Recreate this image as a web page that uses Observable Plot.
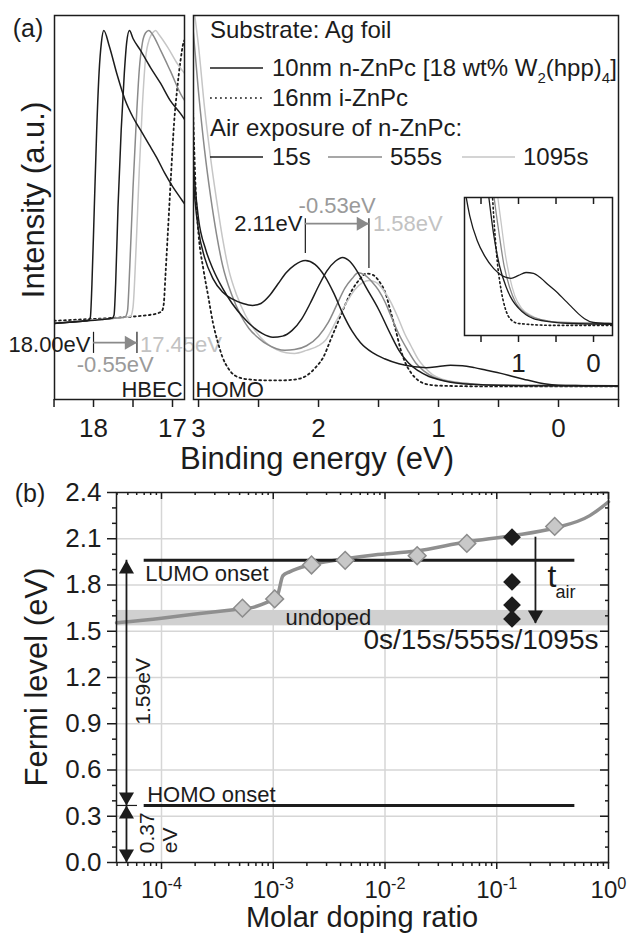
<!DOCTYPE html>
<html><head><meta charset="utf-8">
<script src="https://cdn.jsdelivr.net/npm/d3@7"></script>
<script src="https://cdn.jsdelivr.net/npm/@observablehq/plot@0.6"></script>
<style>
html,body{margin:0;padding:0;background:#fff;}
#root{position:relative;width:630px;height:936px;overflow:hidden;font-family:'Liberation Sans',Arial,Helvetica,sans-serif;color:#222;}
.lbl{position:absolute;white-space:nowrap;line-height:1;}
.sb{font-size:15px;position:relative;top:7px;}
</style></head><body><div id="root"></div>
<script>
// ================= DATA =================
// Panel (a), left: HBEC region, [binding energy (eV), intensity (a.u.)]
const hbec0s = [[18.5,0.198],[18.3,0.201],[18.1,0.205],[18.06,0.207],[18.04,0.214],[18.02,0.3],[17.99,0.5],[17.96,0.7],[17.93,0.85],[17.9,0.93],[17.87,0.961],[17.8,0.92],[17.7,0.845],[17.6,0.78],[17.5,0.735],[17.4,0.7],[17.3,0.665],[17.2,0.63],[17.1,0.59],[17.0,0.555],[16.9,0.525],[16.85,0.51]];
const hbec15s = [[18.5,0.198],[18.2,0.203],[17.9,0.208],[17.76,0.212],[17.74,0.22],[17.72,0.3],[17.69,0.5],[17.65,0.7],[17.61,0.85],[17.58,0.93],[17.545,0.961],[17.5,0.94],[17.405,0.909],[17.28,0.865],[17.15,0.823],[17.03,0.779],[16.9,0.745],[16.85,0.73]];
const hbec555s = [[18.5,0.198],[18.0,0.207],[17.7,0.212],[17.6,0.215],[17.57,0.23],[17.54,0.35],[17.5,0.55],[17.46,0.72],[17.42,0.86],[17.38,0.93],[17.34,0.955],[17.3,0.961],[17.25,0.95],[17.15,0.909],[17.03,0.857],[16.87,0.786],[16.85,0.78]];
const hbec1095s = [[18.5,0.199],[18.0,0.207],[17.7,0.212],[17.53,0.217],[17.5,0.24],[17.46,0.4],[17.42,0.6],[17.38,0.77],[17.34,0.89],[17.29,0.94],[17.25,0.955],[17.215,0.961],[17.17,0.95],[17.06,0.917],[16.94,0.875],[16.85,0.85]];
const hbecIZnPc = [[18.5,0.205],[18.2,0.208],[17.8,0.212],[17.5,0.216],[17.3,0.22],[17.18,0.225],[17.13,0.232],[17.11,0.25],[17.09,0.32],[17.06,0.43],[17.02,0.58],[16.98,0.72],[16.94,0.81],[16.9,0.88],[16.86,0.93],[16.85,0.935]];
const hbecCutoffs = [18.00, 17.45];   // secondary electron cut-offs (eV)
const hbecShift = -0.55;

// Panel (a), right: HOMO region
const homo0s = [[3.06,0.66],[3.03,0.52],[3.0,0.44],[2.95,0.37],[2.88,0.315],[2.8,0.28],[2.72,0.262],[2.63,0.25],[2.55,0.245],[2.48,0.25],[2.41,0.27],[2.34,0.3],[2.27,0.33],[2.2,0.35],[2.11,0.362],[2.03,0.352],[1.95,0.322],[1.87,0.275],[1.8,0.225],[1.72,0.178],[1.65,0.148],[1.55,0.122],[1.45,0.106],[1.33,0.093],[1.2,0.085],[1.1,0.083],[1.0,0.086],[0.9,0.089],[0.8,0.088],[0.7,0.083],[0.6,0.076],[0.48,0.068],[0.38,0.06],[0.29,0.053],[0.2,0.046],[0.12,0.041],[0.0,0.037],[-0.2,0.036],[-0.5,0.035]];
const homo15s = [[3.06,0.7],[3.03,0.56],[3.0,0.47],[2.94,0.39],[2.88,0.34],[2.8,0.29],[2.72,0.25],[2.63,0.215],[2.55,0.19],[2.47,0.172],[2.38,0.162],[2.3,0.165],[2.22,0.18],[2.14,0.21],[2.07,0.25],[2.0,0.295],[1.93,0.335],[1.86,0.36],[1.8,0.37],[1.74,0.36],[1.67,0.33],[1.6,0.29],[1.5,0.235],[1.4,0.17],[1.33,0.128],[1.25,0.095],[1.17,0.075],[1.08,0.06],[1.0,0.052],[0.9,0.045],[0.8,0.041],[0.6,0.038],[0.3,0.036],[-0.5,0.035]];
const homo555s = [[3.05,0.98],[3.0,0.8],[2.95,0.65],[2.9,0.53],[2.85,0.43],[2.8,0.35],[2.72,0.27],[2.65,0.22],[2.58,0.185],[2.5,0.16],[2.42,0.142],[2.35,0.132],[2.28,0.128],[2.2,0.13],[2.1,0.14],[2.0,0.165],[1.92,0.2],[1.85,0.245],[1.78,0.29],[1.72,0.315],[1.67,0.33],[1.62,0.325],[1.55,0.305],[1.5,0.285],[1.44,0.25],[1.4,0.22],[1.33,0.17],[1.26,0.13],[1.19,0.095],[1.12,0.074],[1.04,0.058],[0.96,0.05],[0.85,0.044],[0.7,0.04],[0.4,0.037],[-0.5,0.036]];
const homo1095s = [[3.04,1.02],[3.0,0.92],[2.95,0.76],[2.9,0.63],[2.85,0.52],[2.8,0.42],[2.75,0.34],[2.68,0.27],[2.61,0.22],[2.53,0.18],[2.44,0.148],[2.35,0.13],[2.27,0.122],[2.2,0.12],[2.1,0.128],[2.0,0.14],[1.94,0.155],[1.86,0.2],[1.78,0.245],[1.7,0.285],[1.63,0.305],[1.58,0.31],[1.52,0.305],[1.46,0.285],[1.4,0.255],[1.34,0.215],[1.28,0.17],[1.23,0.14],[1.17,0.105],[1.12,0.085],[1.05,0.065],[0.96,0.052],[0.85,0.045],[0.7,0.04],[0.4,0.037],[-0.5,0.036]];
const homoIZnPc = [[3.05,0.8],[3.02,0.52],[3.0,0.43],[2.96,0.34],[2.92,0.27],[2.88,0.2],[2.84,0.15],[2.8,0.11],[2.75,0.08],[2.7,0.063],[2.6,0.053],[2.45,0.05],[2.3,0.05],[2.2,0.052],[2.1,0.062],[2.02,0.085],[1.96,0.11],[1.9,0.155],[1.84,0.2],[1.78,0.245],[1.72,0.285],[1.66,0.312],[1.6,0.328],[1.55,0.325],[1.5,0.31],[1.44,0.275],[1.4,0.23],[1.36,0.185],[1.32,0.135],[1.28,0.098],[1.23,0.07],[1.17,0.05],[1.1,0.04],[1.0,0.036],[0.5,0.034],[-0.5,0.034]];
const homoPeaks = [2.11, 1.58];
const homoShift = -0.53;

// Panel (b): Fermi level vs molar doping ratio
const dopedRatio = [5.3e-4, 1.03e-3, 2.2e-3, 4.4e-3, 0.0194, 0.054, 0.33];
const dopedEF    = [1.65, 1.71, 1.93, 1.96, 1.99, 2.07, 2.18];
const modelRatio = [3.96e-5, 1e-4, 2.2e-4, 4.4e-4, 6.6e-4, 9e-4, 1.03e-3, 1.1e-3, 1.22e-3, 1.4e-3, 2.0e-3, 2.7e-3, 4.4e-3, 8e-3, 0.019, 0.054, 0.137, 0.33, 0.68, 0.89, 1.0];
const modelEF    = [1.555, 1.585, 1.615, 1.64, 1.655, 1.69, 1.71, 1.74, 1.86, 1.885, 1.925, 1.945, 1.97, 1.995, 2.02, 2.08, 2.12, 2.17, 2.25, 2.31, 2.34];
const airRatio = 0.137;
const airEF = [2.11, 1.82, 1.67, 1.58];
const airTimes = ["0s", "15s", "555s", "1095s"];
const lumoOnset = 1.96, homoOnset = 0.37;
const onsetRange = [7e-5, 0.5];
const undopedBand = [1.535, 1.635];
const yTicksB = [0, 0.3, 0.6, 0.9, 1.2, 1.5, 1.8, 2.1, 2.4];
const decades = [1e-4, 1e-3, 1e-2, 1e-1, 1];

// ================= RENDER =================
const FONT = "'Liberation Sans', Arial, Helvetica, sans-serif";
const INK = "#1c1c1c", DGRAY = "#8a8a8a", LGRAY = "#c6c6c6", TDGRAY = "#9a9a9a", TLGRAY = "#c2c2c2";
const root = document.getElementById("root");
const baseStyle = {fontFamily: FONT, background: "transparent", overflow: "visible", color: INK};

function mount(svg, left, top) {
  const d = document.createElement("div");
  d.style.cssText = `position:absolute;left:${left}px;top:${top}px;`;
  d.appendChild(svg); root.appendChild(d);
}
function label(html, x, y, size, {anchor = "middle", rotate = 0, color = INK, lh = 1} = {}) {
  const d = document.createElement("div");
  d.className = "lbl";
  const tx = anchor === "start" ? "0" : anchor === "end" ? "-100%" : "-50%";
  d.style.left = x + "px"; d.style.top = y + "px"; d.style.fontSize = size + "px"; d.style.color = color;
  d.style.lineHeight = lh;
  d.style.transform = `translate(${tx},-50%)` + (rotate ? ` rotate(${rotate}deg)` : "");
  d.innerHTML = html;
  root.appendChild(d);
}
function legendLine(x1, x2, y, color, dash) {
  const ns = "http://www.w3.org/2000/svg";
  const s = document.createElementNS(ns, "svg");
  s.setAttribute("width", x2 - x1); s.setAttribute("height", 6);
  s.style.cssText = `position:absolute;left:${x1}px;top:${y - 3}px;`;
  const l = document.createElementNS(ns, "line");
  l.setAttribute("x1", 0); l.setAttribute("x2", x2 - x1); l.setAttribute("y1", 3); l.setAttribute("y2", 3);
  l.setAttribute("stroke", color); l.setAttribute("stroke-width", 1.6);
  if (dash) l.setAttribute("stroke-dasharray", dash);
  s.appendChild(l); root.appendChild(s);
}
const lineOpts = (color, extra = {}) => ({x: d => d[0], y: d => d[1], stroke: color, strokeWidth: 1.5, curve: "monotone-x", clip: true, ...extra});
const eV = d => d.toFixed(2) + "eV";

// ---- (a) left: HBEC ----
const hbecPlot = Plot.plot({
  width: 200, height: 445, marginLeft: 54, marginRight: 16, marginTop: 15, marginBottom: 46,
  x: {domain: [18.494, 16.848]}, y: {domain: [0, 1], axis: null},
  style: baseStyle,
  marks: [
    Plot.line(hbecIZnPc, lineOpts(INK, {strokeDasharray: "1.8,3.2", strokeWidth: 1.8})),
    Plot.line(hbec1095s, lineOpts(LGRAY)),
    Plot.line(hbec555s, lineOpts(DGRAY)),
    Plot.line(hbec15s, lineOpts(INK)),
    Plot.line(hbec0s, lineOpts(INK)),
    Plot.ruleX(hbecCutoffs, {x: d => d, y1: () => 0.12, y2: () => 0.175, stroke: INK, strokeWidth: 1.2}),
    Plot.ruleY([0.148], {y: d => d, x1: () => hbecCutoffs[0], x2: () => hbecCutoffs[1], stroke: DGRAY, strokeWidth: 1.8}),
    Plot.dot([hbecCutoffs[1]], {x: d => d, y: () => 0.148, symbol: "triangle", r: 5.2, rotate: 90, fill: DGRAY, dx: -8.1}),
    Plot.text([hbecCutoffs[0]], {x: d => d, y: () => 0.141, text: eV, textAnchor: "end", dx: -3, fill: INK, fontSize: 22}),
    Plot.text([hbecCutoffs[1]], {x: d => d, y: () => 0.141, text: eV, textAnchor: "start", dx: 3, fill: TLGRAY, fontSize: 22}),
    Plot.text([hbecShift], {x: () => (hbecCutoffs[0] + hbecCutoffs[1]) / 2, y: () => 0.089, text: eV, fill: TDGRAY, fontSize: 22}),
    Plot.text(["HBEC"], {x: () => 16.873, y: () => 0.025, text: d => d, textAnchor: "end", fill: INK, fontSize: 22}),
    Plot.frame({stroke: INK, strokeWidth: 1.5}),
    Plot.axisX([18.5, 18, 17.5, 17], {tickSize: 8, tickPadding: 11, strokeWidth: 1.5, tickFormat: d => Number.isInteger(d) ? String(d) : "", fontSize: 26, label: null})
  ]
});
mount(hbecPlot, 0, 0);

// ---- (a) right: HOMO ----
const homoPlot = Plot.plot({
  width: 445, height: 445, marginLeft: 8, marginRight: 12, marginTop: 15, marginBottom: 46,
  x: {domain: [3.042, -0.5]}, y: {domain: [0, 1], axis: null},
  style: baseStyle,
  marks: [
    Plot.line(homoIZnPc, lineOpts(INK, {strokeDasharray: "1.8,3.2", strokeWidth: 1.8})),
    Plot.line(homo1095s, lineOpts(LGRAY)),
    Plot.line(homo555s, lineOpts(DGRAY)),
    Plot.line(homo15s, lineOpts(INK)),
    Plot.line(homo0s, lineOpts(INK)),
    Plot.ruleX([homoPeaks[0]], {x: d => d, y1: () => 0.38, y2: () => 0.471, stroke: INK, strokeWidth: 1.2}),
    Plot.ruleX([homoPeaks[1]], {x: d => d, y1: () => 0.341, y2: () => 0.471, stroke: INK, strokeWidth: 1.2}),
    Plot.ruleY([0.458], {y: d => d, x1: () => homoPeaks[0], x2: () => homoPeaks[1], stroke: DGRAY, strokeWidth: 1.8}),
    Plot.dot([homoPeaks[1]], {x: d => d, y: () => 0.458, symbol: "triangle", r: 5.2, rotate: 90, fill: DGRAY, dx: -8.1}),
    Plot.text([homoPeaks[0]], {x: d => d, y: () => 0.458, text: eV, textAnchor: "end", dx: -3, fill: INK, fontSize: 22}),
    Plot.text([homoPeaks[1]], {x: d => d, y: () => 0.458, text: eV, textAnchor: "start", dx: 4, fill: TLGRAY, fontSize: 22}),
    Plot.text([homoShift], {x: () => (homoPeaks[0] + homoPeaks[1]) / 2, y: () => 0.505, text: eV, fill: TDGRAY, fontSize: 22}),
    Plot.text(["HOMO"], {x: () => 3.025, y: () => 0.025, text: d => d, textAnchor: "start", fill: INK, fontSize: 22}),
    Plot.frame({stroke: INK, strokeWidth: 1.5}),
    Plot.axisX([3, 2.5, 2, 1.5, 1, 0.5, 0, -0.5], {tickSize: 8, tickPadding: 11, strokeWidth: 1.5, tickFormat: d => Number.isInteger(d) ? String(d) : "", fontSize: 26, label: null})
  ]
});
mount(homoPlot, 185, 0);

// ---- (a) inset ----
const insetPlot = Plot.plot({
  width: 175, height: 185, marginLeft: 14, marginRight: 13, marginTop: 7, marginBottom: 40,
  x: {domain: [1.72, -0.253]}, y: {domain: [0.0235, 0.167], axis: null},
  style: baseStyle,
  marks: [
    Plot.frame({fill: "#fff"}),
    Plot.line(homoIZnPc, lineOpts(INK, {strokeDasharray: "1.6,2.8", strokeWidth: 1.6})),
    Plot.line(homo1095s, lineOpts(LGRAY, {strokeWidth: 1.3})),
    Plot.line(homo555s, lineOpts(DGRAY, {strokeWidth: 1.3})),
    Plot.line(homo15s, lineOpts(INK, {strokeWidth: 1.3})),
    Plot.line(homo0s, lineOpts(INK, {strokeWidth: 1.3})),
    Plot.frame({stroke: INK, strokeWidth: 1.5}),
    Plot.tickX([1.5, 1, 0.5, 0], {x: d => d, insetBottom: 131, stroke: INK, strokeWidth: 1.5}),
    Plot.axisX([1.5, 1, 0.5, 0], {tickSize: 7, tickPadding: 11, strokeWidth: 1.5, tickFormat: d => Number.isInteger(d) ? String(d) : "", fontSize: 26, label: null})
  ]
});
mount(insetPlot, 450, 190);

// ---- (b) ----
const minorX = [];
for (const dec of [1e-5, 1e-4, 1e-3, 1e-2, 1e-1]) for (const m of [2,3,4,5,6,7,8,9]) { const v = m * dec; if (v > 3.96e-5 && v < 1) minorX.push(v); }
const minorY = d3.range(0, 2.41, 0.1).map(v => +v.toFixed(1)).filter(v => !yTicksB.includes(v));
const doped = dopedRatio.map((r, i) => ({r, ef: dopedEF[i]}));
const model = modelRatio.map((r, i) => ({r, ef: modelEF[i]}));
const gapX = 4.86e-5, tAirX = 0.222;

const bPlot = Plot.plot({
  width: 630, height: 496, marginLeft: 116, marginRight: 22, marginTop: 52, marginBottom: 74,
  x: {type: "log", domain: [3.957e-5, 1]},
  y: {domain: [0, 2.4]},
  style: baseStyle,
  marks: [
    Plot.gridX(decades.slice(0, 4), {stroke: "#d6d6d6", strokeOpacity: 1, strokeWidth: 1.5}),
    Plot.gridY(yTicksB.slice(1, 8), {stroke: "#d6d6d6", strokeOpacity: 1, strokeWidth: 1.5}),
    Plot.rect([undopedBand], {x1: () => 3.957e-5, x2: () => 1, y1: d => d[0], y2: d => d[1], fill: "#d0d0d0"}),
    Plot.text(["undoped"], {x: () => 1.29e-3, y: () => (undopedBand[0] + undopedBand[1]) / 2, text: d => d, textAnchor: "start", fontSize: 22, fill: INK}),
    Plot.line(model, {x: "r", y: "ef", stroke: "#8f8f8f", strokeWidth: 3.5, curve: "monotone-x", strokeLinecap: "round"}),
    Plot.ruleY([lumoOnset, homoOnset], {y: d => d, x1: () => onsetRange[0], x2: () => onsetRange[1], stroke: INK, strokeWidth: 3}),
    Plot.text(["LUMO onset"], {x: () => onsetRange[0], y: () => lumoOnset, dy: 14, dx: 1, text: d => d, textAnchor: "start", fontSize: 22, fill: INK}),
    Plot.text(["HOMO onset"], {x: () => onsetRange[0], y: () => homoOnset, dy: -11, dx: 3, text: d => d, textAnchor: "start", fontSize: 22, fill: INK}),
    Plot.dot(doped, {x: "r", y: "ef", symbol: "diamond2", r: 8, fill: "#c8c8c8", stroke: "#8c8c8c", strokeWidth: 1.5}),
    Plot.dot(airEF, {x: () => airRatio, y: d => d, symbol: "diamond2", r: 8, fill: INK}),
    // t_air arrow
    Plot.ruleX([tAirX], {x: d => d, y1: () => airEF[0], y2: () => 1.55, stroke: INK, strokeWidth: 1.8}),
    Plot.dot([1.55], {x: () => tAirX, y: d => d, symbol: "triangle", r: 5.6, rotate: 180, fill: INK, dy: -8.7}),
    Plot.text(["t"], {x: () => tAirX, y: () => 1.855, dx: 12, text: d => d, textAnchor: "start", fontSize: 32, fill: INK}),
    Plot.text(["air"], {x: () => tAirX, y: () => 1.75, dx: 20, text: d => d, textAnchor: "start", fontSize: 18, fill: INK}),
    Plot.text([airTimes.join("/")], {x: () => 1, y: () => 1.44, dx: -10, text: d => d, textAnchor: "end", fontSize: 28, fill: INK}),
    // gap arrows
    Plot.ruleX([gapX], {x: d => d, y1: () => 0, y2: () => lumoOnset, stroke: INK, strokeWidth: 1.8}),
    Plot.dot([lumoOnset, homoOnset], {x: () => gapX, y: d => d, symbol: "triangle", r: 5.6, fill: INK, dy: 8.7}),
    Plot.dot([homoOnset, 0], {x: () => gapX, y: d => d, symbol: "triangle", r: 5.6, rotate: 180, fill: INK, dy: -8.7}),
    Plot.ruleY([homoOnset], {y: d => d, x1: () => 3.957e-5, x2: () => 6.1e-5, stroke: INK, strokeWidth: 1.2}),
    Plot.text([lumoOnset - homoOnset], {x: () => gapX, y: () => 1.11, dx: 17, text: eV, rotate: -90, fontSize: 21, fill: INK}),
    Plot.text([homoOnset], {x: () => gapX, y: () => 0.06, dx: 21, text: d => d.toFixed(2), rotate: -90, textAnchor: "start", fontSize: 21, fill: INK}),
    Plot.text(["eV"], {x: () => gapX, y: () => 0.06, dx: 44, text: d => d, rotate: -90, textAnchor: "start", fontSize: 21, fill: INK}),
    Plot.frame({stroke: INK, strokeWidth: 1.5}),
    Plot.axisY(yTicksB, {tickSize: 9, tickPadding: 6, strokeWidth: 1.5, tickFormat: d3.format(".1f"), fontSize: 26, label: null}),
    Plot.axisY(minorY, {tickSize: 4, strokeWidth: 1.5, tickFormat: () => "", label: null}),
    Plot.tickY(yTicksB, {y: d => d, insetLeft: 484, stroke: INK, strokeWidth: 1.5}),
    Plot.tickY(minorY, {y: d => d, insetLeft: 489, stroke: INK, strokeWidth: 1.5}),
    Plot.axisX(decades, {tickSize: 7, tickPadding: 11, strokeWidth: 1.5, tickFormat: d => "10^" + Math.round(Math.log10(d)), fontSize: 24, label: null}),
    Plot.axisX(minorX, {tickSize: 4, strokeWidth: 1.5, tickFormat: () => "", label: null}),
    Plot.tickX(decades, {x: d => d, insetBottom: 363, stroke: INK, strokeWidth: 1.5}),
    Plot.tickX(minorX, {x: d => d, insetBottom: 367, stroke: INK, strokeWidth: 1.5})
  ]
});
d3.select(bPlot).selectAll("text").each(function () {
  const t = this.textContent;
  if (/^10\^/.test(t)) {
    const exp = t.split("^")[1];
    const s = d3.select(this);
    s.text("10");
    s.append("tspan").attr("dy", "-0.55em").attr("font-size", "0.68em").text(exp);
  }
});
mount(bPlot, 0, 440);

// ---- legend (panel a) ----
label("Substrate: Ag foil", 210, 30, 24, {anchor: "start"});
legendLine(210, 263, 68, INK);
label("10nm n-ZnPc [18 wt% W<span class='sb'>2</span>(hpp)<span class='sb'>4</span>]", 272, 68, 24, {anchor: "start"});
legendLine(210, 263, 98, INK, "1.8,3.2");
label("16nm i-ZnPc", 272, 98, 24, {anchor: "start"});
label("Air exposure of n-ZnPc:", 210, 128, 24, {anchor: "start"});
legendLine(210, 263, 157, INK);
label(airTimes[1], 272, 157, 24, {anchor: "start"});
legendLine(328, 382, 157, DGRAY);
label(airTimes[2], 390, 157, 24, {anchor: "start"});
legendLine(462, 515, 157, LGRAY);
label(airTimes[3], 523, 157, 24, {anchor: "start"});

// ---- titles / panel labels ----
label("(a)", 28, 28, 25);
label("(b)", 30, 493, 25);
label("Intensity (a.u.)", 33, 200, 31, {rotate: -90});
label("Binding energy (eV)", 317, 458, 31);
label("Fermi level (eV)", 36, 677, 31, {rotate: -90});
label("Molar doping ratio", 362, 918, 29, {lh: 1.1});
</script></body></html>
